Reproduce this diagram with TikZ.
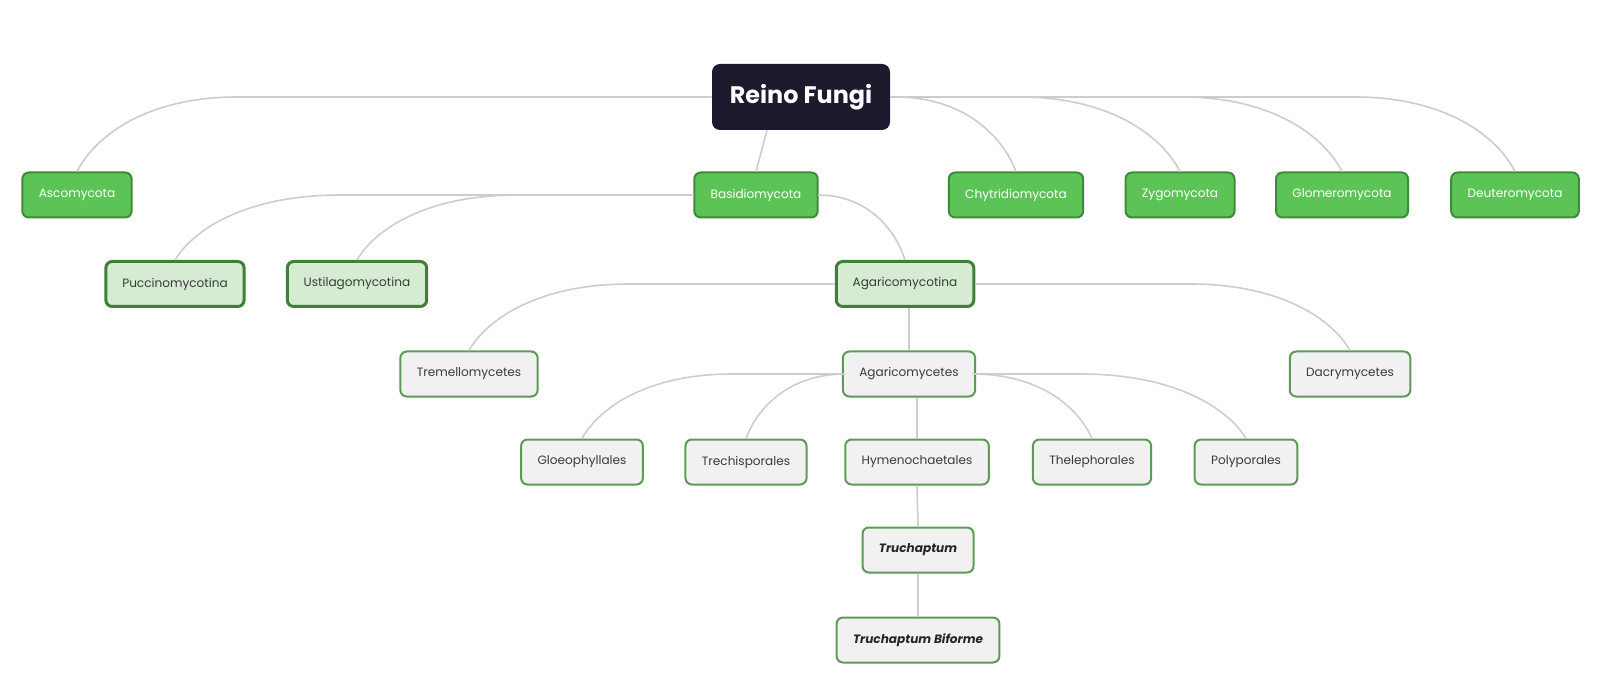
\documentclass[tikz,border=0pt]{standalone}
\usepackage{fontspec}
\setmainfont{Poppins}
\usetikzlibrary{calc}

\definecolor{rootdark}{HTML}{1E1A2D}
\definecolor{phylumfill}{HTML}{5CC457}
\definecolor{phylumline}{HTML}{3D8B39}
\definecolor{subfill}{HTML}{D5ECD2}
\definecolor{subline}{HTML}{3E7F3A}
\definecolor{taxfill}{HTML}{F1F1F1}
\definecolor{taxline}{HTML}{5C9A56}
\definecolor{linkgray}{HTML}{CDCDCD}
\definecolor{labelgray}{HTML}{3A3A3A}

\tikzset{
  box/.style={rounded corners=1.6mm, minimum height=11.25mm, inner xsep=4.1mm,
    font=\fontsize{8.6}{10}\selectfont},
  rootbox/.style={fill=rootdark, text=white, rounded corners=2mm, minimum width=44.5mm,
    minimum height=16.5mm, font=\fontsize{17}{20}\selectfont\bfseries},
  phylum/.style={box, fill=phylumfill, draw=phylumline, line width=0.5mm, text=white},
  subphylum/.style={box, fill=subfill, draw=subline, line width=0.75mm, text=labelgray},
  taxon/.style={box, fill=taxfill, draw=taxline, line width=0.5mm, text=labelgray},
  genus/.style={taxon, font=\fontsize{8.6}{10}\selectfont\bfseries\itshape, text=black!85},
  link/.style={draw=linkgray, line width=0.4mm},
  % #1 = width of the bend (positive: child on the left, negative: on the right)
  branch/.style={to path={-- ($(\tikztostart -| \tikztotarget)+(#1,0)$)
    .. controls ($(\tikztostart -| \tikztotarget)+(#1*0.45,0)$)
    and ($(\tikztostart -| \tikztotarget)!0.5!(\tikztotarget)+(#1*0.12,0)$)
    .. (\tikztotarget)}}
}

\begin{document}
\begin{tikzpicture}[x=0.25mm,y=0.25mm]
	\useasboundingbox (0,0) rectangle (1600,-699);

	% reino
	\node[rootbox] (root) at (801,-97) {Reino Fungi};

	% filos
	\node[phylum] (asco)    at (77,-195)   {Ascomycota};
	\node[phylum] (basidio) at (756,-195)  {Basidiomycota};
	\node[phylum] (chytri)  at (1016,-195) {Chytridiomycota};
	\node[phylum] (zygo)    at (1180,-195) {Zygomycota};
	\node[phylum] (glomero) at (1342,-195) {Glomeromycota};
	\node[phylum] (deutero) at (1515,-195) {Deuteromycota};

	% subfilos
	\node[subphylum] (pucc)      at (175,-284) {Puccinomycotina};
	\node[subphylum] (ustil)     at (357,-284) {Ustilagomycotina};
	\node[subphylum] (agaricina) at (905,-284) {Agaricomycotina};

	% clases
	\node[taxon] (tremello)   at (469,-374)  {Tremellomycetes};
	\node[taxon] (agaricetes) at (909,-374)  {Agaricomycetes};
	\node[taxon] (dacry)      at (1350,-374) {Dacrymycetes};

	% ordenes
	\node[taxon] (gloeo)   at (582,-462)  {Gloeophyllales};
	\node[taxon] (trechi)  at (746,-462)  {Trechisporales};
	\node[taxon] (hymeno)  at (917,-462)  {Hymenochaetales};
	\node[taxon] (theleph) at (1092,-462) {Thelephorales};
	\node[taxon] (polypo)  at (1246,-462) {Polyporales};

	% genero y especie
	\node[genus] (truch)   at (918,-550) {Truchaptum};
	\node[genus] (biforme) at (918,-640) {Truchaptum Biforme};

	% reino to filos
	\draw[link] (root.west) to[branch=160] (asco.north);
	\draw[link] ($(root.south)+(-34,0)$) -- (basidio.north);
	\draw[link] (root.east) to[branch=-120] (chytri.north);
	\draw[link] (root.east) to[branch=-160] (zygo.north);
	\draw[link] (root.east) to[branch=-160] (glomero.north);
	\draw[link] (root.east) to[branch=-160] (deutero.north);

	% basidiomycota to subfilos
	\draw[link] (basidio.west) to[branch=165] (pucc.north);
	\draw[link] (basidio.west) to[branch=160] (ustil.north);
	\draw[link] (basidio.east) to[branch=-87] (agaricina.north);

	% agaricomycotina to clases
	\draw[link] (agaricina.west) to[branch=160] (tremello.north);
	\draw[link] (agaricina.south -| agaricetes.north) -- (agaricetes.north);
	\draw[link] (agaricina.east) to[branch=-160] (dacry.north);

	% agaricomycetes to ordenes
	\draw[link] (agaricetes.west) to[branch=150] (gloeo.north);
	\draw[link] (agaricetes.west) to[branch=99] (trechi.north);
	\draw[link] (agaricetes.south -| hymeno.north) -- (hymeno.north);
	\draw[link] (agaricetes.east) to[branch=-119] (theleph.north);
	\draw[link] (agaricetes.east) to[branch=-165] (polypo.north);

	% hymenochaetales to especie
	\draw[link] (hymeno.south) -- (truch.north);
	\draw[link] (truch.south) -- (biforme.north);

\end{tikzpicture}
\end{document}
